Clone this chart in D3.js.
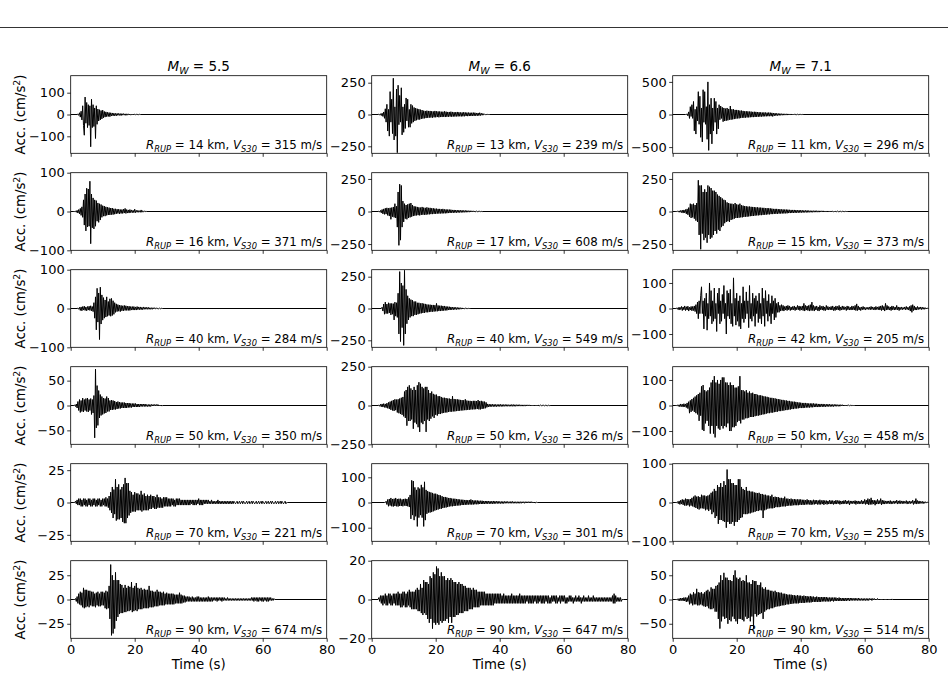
<!DOCTYPE html>
<html>
<head>
<meta charset="utf-8">
<script src="https://cdn.jsdelivr.net/npm/d3@7"></script>
<style>
  body { margin: 0; background: #fff; }
  svg text { font-family: "DejaVu Sans", sans-serif; fill: #000; }
</style>
</head>
<body>
<svg id="chart" width="948" height="681"></svg>
<script>
// ---- data ----
const magnitudes = ["5.5", "6.6", "7.1"];
const distances = [[14, 16, 40, 50, 70, 90], [13, 17, 40, 50, 70, 90], [11, 15, 42, 50, 70, 90]];
const vs30 = [[315, 371, 284, 350, 221, 674], [239, 608, 549, 326, 301, 647], [296, 373, 205, 458, 255, 514]];
const yLimits = [[178, 100, 100, 78, 30, 40], [305, 298, 305, 250, 154, 20], [595, 298, 152, 152, 100, 80]];
const yTickValues = [
  [[-100, 0, 100], [-100, 0, 100], [-100, 0, 100], [-50, 0, 50], [-25, 0, 25], [-25, 0, 25]],
  [[-250, 0, 250], [-250, 0, 250], [-250, 0, 250], [-250, 0, 250], [-100, 0, 100], [-20, 0, 20]],
  [[-500, 0, 500], [-250, 0, 250], [-100, 0, 100], [-100, 0, 100], [-100, 0, 100], [-50, 0, 50]]
];
const xTickValues = [0, 20, 40, 60, 80];
const timeRange = [0, 80];
const sampleStep = 0.25; // s
const startTimes = [[2, 1, 2, 1, 1, 1], [2, 2, 3, 2, 4, 2], [4, 1, 1, 1, 1, 1]];

// acceleration samples (cm/s^2), four per second
const acc55_14 = [0,2,-4,8, -12,15,-25,40, -50,-95,80,-40, 55,-60,45,-50, 40,-148,70,-60, 45,-55,30,-110,
  40,-45,25,-30, 22,-25,18,-20, 20,-15,14,-12, 12,-10,10,-9, 9,-10,8,-7, 7,-6,6,-6, 5,-6,5,-4,
  5,-4,4,-5, 4,-3,4,-3, 3,-4,3,-3, 3,-2,2,-3, 2,-2,2,-2, 2,-1,1,-1, 1,-1,1,0];
const acc55_16 = [0,0,1,-2, 3,-4,5,-6, 8,-10,12,-15, 30,-35,45,-50, 60,-40,58,-38, 78,-83,45,-42,
  35,-45,30,-38, 28,-25,22,-28, 20,-22,18,-15, 15,-12,14,-12, 12,-10,11,-9, 10,-9,9,-8, 9,-8,7,-7,
  7,-6,6,-5, 6,-6,5,-5, 5,-5,6,-4, 8,-5,5,-4, 4,-4,5,-3, 4,-3,3,-3, 6,-3,3,-2, 3,-2,2,-2,
  4,-2,2,-1, 1,-1,1,0];
const acc55_40 = [0,1,-2,3, -5,4,-6,5, -4,6,-5,4, -6,5,-4,6, -5,7,-6,5, -8,15,-25,30, -55,52,-35,40,
  -80,55,-40,35, -30,28,-25,22, -22,30,-20,18, -18,25,-20,26, -18,20,-15,15, -10,12,-8,10, -7,9,-8,8,
  -6,7,-6,8, -5,7,-5,6, -5,6,-5,5, -4,5,-4,5, -4,4,-4,5, -3,4,-3,4, -3,3,-3,4, -2,3,-2,3,
  -2,3,-2,2, -2,2,-2,2, -1,2,-1,1, -1,1,-1,1, -1,1,0,0];
const acc55_50 = [0,1,-2,3, -5,8,-10,12, -14,10,-12,15, -13,12,-10,14, -12,15,-13,12, -10,14,-18,12,
  -15,20,-65,73, -45,40,-40,30, -25,22,-20,18, -18,15,-16,14, -15,18,-12,15, -12,10,-9,11, -9,10,-8,9,
  -8,7,-7,8, -6,7,-6,6, -5,6,-5,6, -5,5,-5,5, -4,5,-4,4, -4,4,-3,4, -3,4,-3,3, -3,3,-3,3,
  -2,3,-2,3, -2,3,-2,2, -2,2,-2,2, -2,2,-1,2, -1,2,-1,2, -1,2,-1,1, -1,1,-1,0];
const acc55_70 = [0,0,1,-1, 2,-2,3,-2, 3,-3,2,-3, 3,-2,3,-3, 2,-3,3,-2, 3,-3,2,-3, 3,-2,3,-3,
  2,-3,3,-2, 3,-3,2,-3, 3,-2,3,-3, 4,-3,3,-4, 5,-6,8,-8, 12,-12,10,-9, 18,-14,12,-13, 14,-13,10,-12,
  12,-15,14,-16, 19,-16,15,-12, 15,-10,9,-8, 8,-7,6,-7, 8,-7,7,-6, 7,-6,6,-6, 9,-7,6,-6, 7,-6,5,-6,
  6,-6,5,-5, 6,-5,5,-4, 5,-5,4,-5, 6,-4,4,-4, 4,-4,3,-4, 4,-3,4,-3, 4,-3,3,-3, 3,-3,3,-2,
  3,-3,2,-3, 3,-2,3,-2, 3,-2,2,-2, 2,-2,2,-2, 2,-2,2,-2, 2,-2,2,-1, 2,-2,2,-2, 2,-2,2,-1,
  3,-2,2,-2, 2,-2,2,-1, 2,-1,2,-1, 2,-1,1,-1, 2,-1,1,-1, 1,-1,1,-1, 2,-1,1,-1, 1,-1,1,-1,
  1,-1,1,-1, 1,-1,1,-1, 1,-1,1,-1, 1,0,-1,0, 1,-1,0,1, -1,0,1,-1, 1,0,-1,0, 1,-1,0,1,
  -1,0,1,-1, 1,0,-1,0, 1,-1,0,1, -1,0,1,-1, 1,0,-1,0, 1,-1,0,1, -1,0,1,-1, 1,0,-1,0,
  1,-1,0,1, -1,0,1,-1, 1,0,-1,0, 1,-1,0,0];
const acc55_90 = [0,0,1,-2, 3,-4,6,-5, 8,-6,7,-8, 12,-9,10,-8, 10,-7,9,-8, 9,-6,8,-7, 8,-7,6,-8,
  7,-6,8,-7, 6,-7,8,-6, 8,-6,7,-9, 9,-10,8,-9, 14,-20,36,-37, 25,-35,20,-30, 28,-22,20,-18,
  20,-15,16,-14, 15,-14,12,-13, 15,-13,12,-12, 14,-12,13,-11, 18,-13,12,-12, 14,-11,17,-12,
  12,-10,11,-10, 12,-10,10,-9, 11,-9,10,-9, 10,-9,14,-8, 9,-8,9,-8, 8,-7,8,-7, 10,-7,8,-6,
  8,-6,7,-6, 8,-6,6,-5, 7,-5,6,-5, 6,-5,6,-5, 6,-5,5,-4, 5,-4,5,-4, 7,-4,5,-4, 4,-3,4,-3,
  3,-2,3,-2, 3,-2,2,-2, 3,-2,2,-2, 2,-2,3,-2, 3,-2,2,-2, 2,-2,2,-2, 2,-2,2,-2, 3,-2,2,-2,
  2,-2,2,-1, 2,-1,2,-2, 2,-1,2,-1, 2,-2,2,-1, 2,-1,1,-1, 2,-1,1,-1, 1,-1,1,-1, 1,-1,1,-1,
  1,-1,1,-1, 1,-1,1,-1, 1,-1,1,-1, 1,-1,1,-1, 1,-1,2,-1, 2,-2,2,-1, 2,-2,2,-2, 2,-1,2,-2,
  2,-2,2,-1, 2,-2,2,-2, 2,-1,2,-1, 1,-1,1,0];

const acc66_13 = [0,2,-4,6, -8,10,-15,20, -30,45,-60,80, -130,40,-170,180, -60,120,-150,285,
  -200,60,-170,200, -300,230,-80,150, -60,210,-160,60, -140,80,-110,130, -50,120,-100,40,
  -100,80,-70,70, -60,55,-50,50, -45,45,-40,42, -40,38,-35,35, -32,30,-30,28, -28,30,-26,28,
  -25,28,-24,26, -25,24,-22,28, -22,25,-20,24, -22,24,-20,22, -20,22,-18,25, -20,22,-18,20,
  -18,20,-16,22, -18,20,-16,18, -16,18,-15,20, -15,18,-14,16, -15,16,-14,18, -14,16,-12,15,
  -13,15,-12,14, -12,14,-11,15, -11,14,-10,12, -10,12,-9,14, -8,10,-6,8, -3,2,-1,1, -1,1,0,0];
const acc66_17 = [0,3,-5,8, -10,15,-18,20, -22,25,-20,28, -30,25,-35,28, -60,30,-40,35, -45,60,-50,40,
  -120,150,-260,210, -220,200,-120,80, -80,60,-55,50, -60,55,-50,60, -45,65,-40,50, -35,40,-32,38,
  -30,35,-28,32, -30,30,-26,35, -25,30,-25,28, -25,32,-22,28, -22,28,-20,25, -20,25,-18,22,
  -18,22,-16,20, -16,20,-15,18, -15,20,-14,16, -14,16,-13,15, -12,15,-11,14, -10,12,-10,12,
  -9,11,-9,10, -8,10,-8,9, -7,9,-7,8, -6,8,-6,7, -5,6,-5,6, -4,5,-4,5, -3,4,-3,3, -2,3,-2,2,
  -1,1,-1,0];
const acc66_40 = [0,10,-20,35, -45,50,-40,35, -40,45,-35,40, -50,40,-45,38, -90,50,-60,45,
  -70,120,-200,290, -260,200,-150,180, -290,300,-200,150, -120,100,-90,80, -70,70,-60,65,
  -60,55,-50,55, -50,45,-45,45, -40,40,-38,42, -35,38,-35,36, -30,32,-30,30, -28,30,-26,28,
  -25,28,-24,26, -22,40,-22,24, -20,22,-20,22, -18,20,-17,20, -15,16,-15,15, -12,14,-12,12,
  -10,11,-10,10, -8,9,-8,8, -7,7,-6,6, -5,5,-4,4, -3,3,-2,2, -1,1,0,0];
const acc66_50 = [0,3,-5,8, -8,10,-10,12, -12,10,-14,15, -18,20,-22,25, -28,30,-32,35, -35,40,-30,38,
  -45,40,-50,45, -55,50,-60,55, -70,90,-80,100, -130,120,-100,130, -100,110,-90,100, -150,120,-110,100,
  -120,130,-140,150, -170,140,-110,120, -120,110,-100,120, -170,120,-90,100, -100,80,-85,90,
  -70,75,-80,70, -60,70,-65,60, -55,60,-55,55, -50,50,-48,50, -45,48,-45,45, -42,45,-40,42,
  -40,60,-38,42, -38,40,-36,40, -35,38,-34,36, -32,35,-32,34, -30,40,-30,32, -28,30,-28,30,
  -26,28,-25,30, -25,30,-24,28, -22,35,-25,28, -25,30,-22,26, -20,25,-18,20, -12,10,-9,8,
  -8,8,-7,8, -7,7,-7,7, -7,6,-6,7, -6,7,-6,6, -6,6,-5,6, -5,6,-5,5, -5,5,-5,6, -5,6,-5,5,
  -5,5,-4,5, -4,5,-4,4, -4,4,-4,4, -4,4,-3,4, -3,4,-3,3, -3,3,-3,3, -3,3,-3,3, -3,3,-2,3,
  -2,3,-2,2, -2,2,-2,2, -2,2,-1,0];
const acc66_70 = [0,0,5,-8, 12,-15,14,-12, 18,-15,14,-16, 15,-14,18,-15, 14,-16,15,-14, 15,-14,12,-15,
  14,-12,15,-14, 14,-15,20,-18, 30,-65,88,-50, 85,-70,60,-55, 50,-95,60,-60, 55,-50,70,-60,
  60,-95,82,-70, 50,-45,45,-40, 42,-40,40,-38, 38,-35,35,-32, 35,-30,32,-28, 30,-25,28,-25,
  25,-22,22,-20, 22,-20,20,-18, 18,-16,18,-15, 16,-15,15,-14, 15,-13,14,-12, 13,-12,12,-11,
  11,-10,11,-10, 10,-9,10,-9, 9,-8,10,-8, 12,-8,9,-8, 8,-7,8,-7, 8,-7,7,-6, 7,-6,7,-6,
  6,-6,6,-5, 6,-5,6,-5, 5,-5,5,-5, 6,-5,5,-4, 5,-4,5,-4, 4,-4,4,-4, 4,-4,4,-3, 4,-3,4,-3,
  3,-3,4,-3, 4,-3,3,-3, 3,-3,3,-3, 3,-3,3,-3, 3,-2,3,-3, 3,-2,3,-2, 3,-2,3,-2, 3,-2,2,-2,
  2,-2,1,0];
const acc66_90 = [0,1,-1,2, -2,2,-3,2, -2,3,-3,2, -3,3,-2,3, -3,2,-3,3, -2,3,-3,3, -3,4,-3,3,
  -4,3,-4,4, -3,4,-4,3, -4,4,-3,5, -4,4,-5,4, -5,4,-5,5, -5,6,-6,5, -6,8,-7,6, -8,10,-7,9,
  -8,9,-10,8, -12,12,-10,11, -15,14,-12,13, -13,17,-12,16, -13,12,-11,14, -12,12,-11,12,
  -11,10,-10,11, -12,10,-9,11, -12,10,-9,9, -9,9,-8,8, -8,9,-7,8, -7,8,-7,7, -6,7,-6,6,
  -6,6,-5,6, -5,5,-5,6, -4,5,-4,5, -4,4,-4,4, -3,4,-3,4, -3,4,-3,3, -3,3,-3,3, -3,3,-3,3,
  -3,3,-2,3, -2,3,-2,3, -2,3,-2,2, -2,3,-2,2, -2,2,-2,2, -2,2,-2,3, -2,2,-2,2, -2,2,-2,2,
  -2,3,-2,2, -2,2,-2,2, -2,2,-1,2, -2,2,-2,2, -2,2,-2,2, -1,2,-2,2, -2,2,-1,2, -2,2,-2,2,
  -2,2,-1,2, -2,2,-2,1, -2,2,-1,2, -1,2,-2,2, -2,1,-1,2, -2,2,-1,2, -1,2,-2,1, -2,1,-1,2,
  -1,2,-1,1, -2,1,-1,2, -1,1,-1,2, -1,1,-2,1, -1,2,-1,1, -1,1,-1,2, -1,1,-1,1, -1,2,-1,1,
  -1,1,-1,1, -1,1,-1,1, -1,1,-1,1, -1,1,-1,1, -1,1,-1,1, -1,2,-2,3, -2,2,-1,1, -1,1,-1,1,
  -1,0,0,0];

const acc71_11 = [0,0,10,-20, 40,-60,120,-30, 150,-60,200,-250, 80,-300,120,-100, 350,-150,280,-350,
  100,-420,380,-120, 350,-150,120,-380, 500,-550,150,-300, 250,-450,100,-250, 250,-120,200,-300,
  100,-220,150,-80, 130,-60,110,-110, 100,-100,90,-95, 100,-90,85,-80, 130,-80,80,-75,
  80,-70,70,-65, 70,-60,65,-60, 60,-55,60,-50, 55,-50,50,-48, 50,-45,48,-45, 45,-42,45,-40,
  40,-40,42,-38, 40,-36,38,-35, 35,-33,34,-32, 30,-30,32,-28, 30,-28,28,-26, 30,-26,28,-25,
  25,-30,22,-20, 20,-18,18,-16, 15,-14,14,-12, 12,-11,11,-10, 10,-9,10,-9, 9,-8,8,-8,
  8,-7,7,-6, 6,-5,5,-4, 4,-3,3,-2, 2,-1,1,0];
const acc71_15 = [0,0,2,-3, 5,-6,8,-8, 10,-12,12,-10, 15,-18,20,-25, 30,-40,60,-50, 55,-45,60,-55,
  50,-70,65,-80, 240,-180,200,-290, 200,-170,150,-220, 170,-200,150,-240, 200,-180,190,-210,
  180,-200,160,-180, 160,-150,150,-170, 130,-140,120,-150, 110,-120,100,-110, 90,-90,85,-80,
  70,-75,65,-80, 60,-65,60,-60, 55,-55,65,-50, 55,-50,52,-48, 60,-45,48,-45, 45,-42,42,-40,
  40,-40,38,-38, 38,-36,36,-35, 35,-34,34,-32, 32,-30,32,-30, 30,-28,30,-28, 28,-26,28,-25,
  25,-24,26,-22, 25,-22,24,-20, 22,-20,20,-18, 20,-18,20,-18, 18,-16,18,-16, 16,-15,16,-15,
  15,-14,15,-14, 14,-12,13,-12, 12,-11,12,-11, 12,-10,11,-10, 10,-9,10,-9, 10,-8,9,-8,
  8,-7,8,-7, 8,-7,7,-6, 6,-6,6,-6, 6,-5,6,-5, 6,-5,5,-5, 5,-4,5,-4, 5,-4,4,-4, 4,-4,4,-4,
  4,-3,4,-3, 3,-3,3,-3, 3,-2,3,-2, 2,-2,2,-2, 2,-1,1,-1, 1,0,0,0];
const acc71_42 = [0,2,-3,4, -6,5,-4,8, -8,6,-5,10, -8,7,-6,9, -10,5,-6,8, -9,8,-8,10, -12,15,-20,25,
  -40,30,-20,50, 85,-20,30,-80, 40,-30,60,-85, 20,-40,100,-30, 70,-60,30,-50, 80,-40,20,-90,
  60,-20,80,-60, 30,-50,55,-20, 90,-40,20,-100, 70,-30,60,-40, 75,-60,20,-70, 120,-30,40,-65,
  60,-50,30,-70, 50,-80,20,-40, 85,-55,30,-40, 65,-20,30,-75, 90,-40,20,-50, 60,-30,40,-70,
  50,-20,30,-55, 60,-40,20,-60, 80,-30,40,-70, 70,-20,30,-50, 55,-30,20,-60, 50,-20,30,-45,
  40,-35,20,-15, 25,-15,12,-10, 15,-8,12,-10, 8,-6,10,-8, 12,-5,10,-8, 6,-6,8,-5, 10,-8,6,-5,
  12,-5,10,-8, 8,-6,10,-8, 20,-10,12,-6, 10,-8,12,-10, 15,-8,25,-8, 12,-10,8,-6, 10,-8,6,-10,
  12,-5,8,-6, 10,-8,6,-8, 12,-5,8,-6, 6,-5,8,-6, 10,-8,6,-8, 10,-5,8,-6, 12,-8,6,-6, 10,-5,8,-4,
  6,-8,10,-5, 8,-6,5,-6, 10,-5,8,-6, 12,-8,18,-8, 10,-6,5,-8, 6,-5,8,-4, 5,-6,4,-3, 5,-4,6,-5,
  8,-4,6,-5, 5,-6,8,-4, 6,-5,8,-6, 10,-8,12,-6, 8,-10,20,-6, 12,-5,8,-6, 6,-8,10,-5, 8,-6,6,-5,
  12,-5,6,-8, 5,-4,6,-5, 4,-3,6,-5, 8,-4,5,-6, 8,-10,12,-15, 15,-8,10,-6, 5,-6,8,-4, 5,-3,6,-4,
  5,-3,4,-3, 3,-2,2,0];
const acc71_50 = [0,0,2,-3, 3,-5,6,-4, 5,-6,7,-5, 6,-8,10,-12, 15,-30,20,-25, 25,-20,30,-25, 35,-30,40,-35,
  45,-60,50,-40, 75,-95,80,-100, 60,-70,55,-60, 60,-80,70,-110, 90,-80,100,-110, 115,-125,90,-80,
  100,-90,85,-95, 100,-80,110,-90, 110,-80,90,-85, 90,-70,80,-100, 90,-100,80,-85, 80,-85,70,-80,
  70,-65,75,-60, 115,-70,60,-55, 60,-55,55,-50, 60,-50,50,-48, 55,-45,48,-45, 50,-45,45,-42,
  45,-40,42,-40, 40,-38,40,-36, 38,-35,36,-34, 35,-32,34,-30, 32,-30,30,-28, 30,-28,28,-26,
  28,-25,26,-24, 25,-22,24,-22, 22,-20,22,-20, 20,-18,20,-18, 18,-16,18,-16, 16,-14,15,-14,
  15,-12,14,-12, 12,-11,12,-10, 11,-10,10,-10, 10,-9,10,-8, 9,-8,8,-8, 8,-7,8,-7, 8,-6,7,-6,
  7,-6,6,-6, 6,-5,6,-5, 6,-5,5,-5, 5,-4,5,-4, 5,-4,4,-4, 4,-4,4,-3, 4,-3,3,-3, 3,-3,3,-2,
  3,-2,2,-2, 2,-2,2,-1, 2,-1,1,-1, 1,0,0,0];
const acc71_70 = [0,0,2,-3, 4,-5,6,-4, 8,-6,7,-8, 10,-8,9,-7, 8,-10,9,-8, 12,-10,15,-12, 18,-14,15,-16,
  16,-18,14,-15, 20,-15,18,-16, 18,-20,16,-18, 18,-22,20,-18, 25,-30,28,-25, 35,-40,30,-35,
  45,-55,40,-45, 50,-45,40,-48, 55,-50,45,-65, 85,-50,60,-55, 60,-55,50,-50, 50,-60,45,-50,
  45,-50,60,-45, 60,-40,40,-38, 35,-30,32,-30, 40,-30,30,-28, 30,-28,28,-26, 28,-25,26,-24,
  25,-22,24,-22, 25,-20,22,-20, 22,-40,20,-20, 20,-18,18,-16, 18,-15,16,-15, 20,-15,14,-14,
  15,-12,14,-12, 14,-12,12,-11, 12,-10,11,-10, 15,-10,10,-9, 10,-8,9,-8, 10,-8,8,-7, 9,-7,8,-7,
  8,-7,8,-6, 8,-6,7,-6, 7,-6,6,-5, 8,-5,6,-5, 6,-6,5,-5, 7,-5,6,-4, 6,-5,5,-5, 7,-5,5,-4,
  6,-6,5,-4, 5,-5,4,-4, 6,-4,5,-4, 5,-5,4,-4, 6,-4,5,-3, 5,-5,4,-4, 4,-4,5,-3, 6,-4,4,-3,
  5,-6,4,-3, 4,-3,4,-3, 5,-5,4,-3, 4,-4,3,-3, 6,-4,4,-3, 8,-5,6,-4, 10,-6,8,-5, 12,-5,6,-4,
  6,-7,5,-4, 8,-4,5,-3, 10,-6,6,-4, 5,-4,4,-3, 4,-3,4,-3, 5,-4,3,-3, 4,-3,4,-2, 6,-4,4,-3,
  5,-3,4,-3, 4,-3,3,-2, 5,-4,3,-3, 4,-3,3,-2, 6,-5,4,-3, 10,-4,5,-3, 4,-3,3,-2, 3,-3,2,-2,
  2,-1,1,0];
const acc71_90 = [0,0,1,-2, 2,-3,3,-2, 3,-3,4,-3, 4,-5,4,-4, 8,-10,12,-8, 10,-12,15,-10, 12,-10,22,-12,
  15,-12,14,-10, 15,-12,12,-14, 15,-15,18,-14, 20,-18,16,-20, 25,-20,22,-18, 22,-25,28,-25,
  30,-40,35,-60, 50,-45,40,-35, 55,-40,45,-38, 45,-50,40,-42, 40,-45,38,-35, 50,-40,60,-45,
  45,-50,42,-40, 45,-40,38,-42, 40,-45,38,-35, 50,-40,35,-38, 35,-45,32,-35, 40,-60,38,-30,
  38,-35,30,-32, 30,-30,35,-28, 25,-40,22,-25, 25,-22,20,-20, 20,-20,18,-18, 18,-18,16,-16,
  18,-15,15,-14, 15,-14,14,-13, 14,-12,12,-12, 12,-11,11,-10, 10,-10,10,-9, 10,-9,9,-8,
  9,-8,8,-8, 9,-8,8,-7, 8,-7,7,-7, 8,-7,7,-6, 7,-6,6,-6, 7,-6,6,-5, 6,-5,5,-5, 6,-5,5,-5,
  5,-5,5,-4, 5,-4,5,-4, 5,-4,4,-4, 4,-4,4,-3, 4,-4,4,-3, 4,-3,3,-3, 4,-3,3,-3, 3,-3,3,-3,
  3,-3,3,-2, 3,-3,3,-2, 3,-2,2,-2, 3,-2,2,-2, 3,-2,2,-2, 2,-2,2,-2, 2,-2,2,-2, 2,-2,2,-1,
  2,-2,2,-1, 2,-1,1,-1, 2,-1,1,-1, 1,-1,1,-1, 1,-1,1,-1, 1,-1,1,-1, 1,-1,1,0];

const traces = [
  [acc55_14, acc55_16, acc55_40, acc55_50, acc55_70, acc55_90],
  [acc66_13, acc66_17, acc66_40, acc66_50, acc66_70, acc66_90],
  [acc71_11, acc71_15, acc71_42, acc71_50, acc71_70, acc71_90]
];

// ---- layout ----
const colLeft = [70.7, 371.7, 672.7];
const panelW = 256;
const rowTop0 = 75.7, rowStep = 97, panelH = 77.6;
const nRows = 6;

const svg = d3.select("#chart");

// thin rule across the top of the page
svg.append("line")
  .attr("x1", 0).attr("x2", 948)
  .attr("y1", 27.5).attr("y2", 27.5)
  .attr("stroke", "#000").attr("stroke-width", 0.8);

const defs = svg.append("defs");

magnitudes.forEach((mw, c) => {
  // column title
  const title = svg.append("text")
    .attr("x", colLeft[c] + panelW / 2)
    .attr("y", rowTop0 - 5)
    .attr("text-anchor", "middle")
    .style("font-size", "13.5px")
    .style("white-space", "pre");
  title.append("tspan").style("font-style", "italic").text("M");
  title.append("tspan").style("font-style", "italic").style("font-size", "9.5px").attr("dy", 3).text("W");
  title.append("tspan").attr("dy", -3).text(" = " + mw);

  for (let r = 0; r < nRows; r++) {
    const top = rowTop0 + r * rowStep;
    const g = svg.append("g").attr("transform", `translate(${colLeft[c]},${top})`);

    const x = d3.scaleLinear().domain(timeRange).range([0, panelW]);
    const lim = yLimits[c][r];
    const y = d3.scaleLinear().domain([-lim, lim]).range([panelH, 0]);

    const clipId = `clip-${c}-${r}`;
    defs.append("clipPath").attr("id", clipId)
      .append("rect").attr("width", panelW).attr("height", panelH);

    // record: quiet before the start time, samples, quiet to the end
    const t0 = startTimes[c][r];
    const pts = [[timeRange[0], 0]]
      .concat(traces[c][r].map((a, i) => [t0 + i * sampleStep, a]));
    pts.push([timeRange[1], 0]);

    const line = d3.line().x(d => x(d[0])).y(d => y(d[1]));
    g.append("path")
      .attr("clip-path", `url(#${clipId})`)
      .attr("d", line(pts))
      .attr("fill", "none")
      .attr("stroke", "#000")
      .attr("stroke-width", 1)
      .attr("stroke-linejoin", "miter");

    // axes
    const xAxis = d3.axisBottom(x).tickValues(xTickValues).tickSize(3.5).tickPadding(2.5)
      .tickFormat(r === nRows - 1 ? d3.format("d") : () => "");
    const gx = g.append("g").attr("transform", `translate(0,${panelH})`).call(xAxis);
    const yAxis = d3.axisLeft(y).tickValues(yTickValues[c][r]).tickSize(3.5).tickPadding(2.5)
      .tickFormat(d3.format("d"));
    const gy = g.append("g").call(yAxis);
    [gx, gy].forEach(ax => {
      ax.select(".domain").remove();
      ax.selectAll("line").attr("stroke", "#000").attr("stroke-width", 0.8);
      ax.selectAll("text").style("font-size", "13px").attr("fill", "#000");
    });

    g.append("rect")
      .attr("width", panelW).attr("height", panelH)
      .attr("fill", "none").attr("stroke", "#000").attr("stroke-width", 0.8);

    // record annotation
    const note = g.append("text")
      .attr("x", panelW - 4.5).attr("y", panelH - 4)
      .attr("text-anchor", "end")
      .style("font-size", "11.8px")
      .style("white-space", "pre");
    note.append("tspan").style("font-style", "italic").text("R");
    note.append("tspan").style("font-style", "italic").style("font-size", "8.3px").attr("dy", 2.6).text("RUP");
    note.append("tspan").attr("dy", -2.6).text(` = ${distances[c][r]} km, `);
    note.append("tspan").style("font-style", "italic").text("V");
    note.append("tspan").style("font-style", "italic").style("font-size", "8.3px").attr("dy", 2.6).text("S30");
    note.append("tspan").attr("dy", -2.6).text(` = ${vs30[c][r]} m/s`);

    if (c === 0) {
      const lab = svg.append("text")
        .attr("transform", `translate(24.5,${top + panelH / 2}) rotate(-90)`)
        .attr("text-anchor", "middle")
        .style("font-size", "13.3px");
      lab.append("tspan").text("Acc. (cm/s");
      lab.append("tspan").style("font-size", "9.3px").attr("dy", -5).text("2");
      lab.append("tspan").attr("dy", 5).text(")");
    }
    if (r === nRows - 1) {
      svg.append("text")
        .attr("x", colLeft[c] + panelW / 2)
        .attr("y", top + panelH + 31)
        .attr("text-anchor", "middle")
        .style("font-size", "13.3px")
        .text("Time (s)");
    }
  }
});
</script>
</body>
</html>
